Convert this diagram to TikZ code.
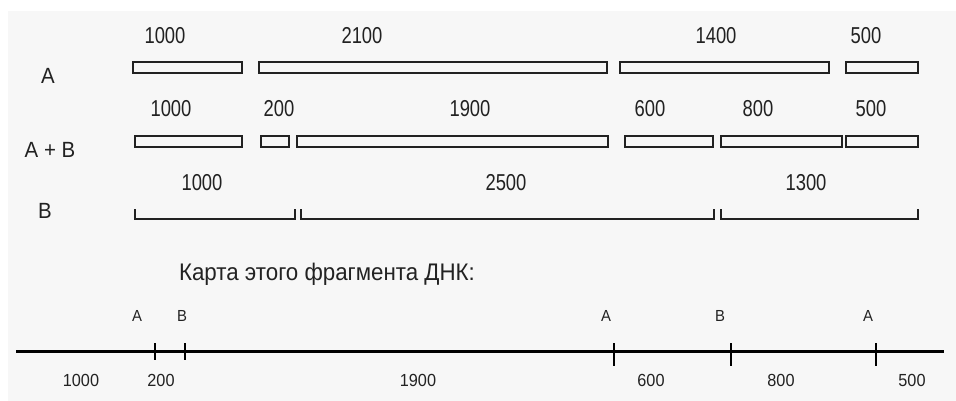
\documentclass[tikz,border=0pt]{standalone}
\usepackage{fontspec}
\setmainfont{Liberation Sans}
\newfontfamily\nar{Liberation Sans}[FakeStretch=0.8]
\newfontfamily\reg{Liberation Sans}[FakeStretch=0.93]
\definecolor{bg}{HTML}{F7F7F7}
\definecolor{ink}{HTML}{222222}
\begin{document}
\begin{tikzpicture}[x=1pt,y=-1pt,
  lab/.style={inner sep=0pt,text=ink,font=\nar\fontsize{23}{25}\selectfont},
  rowlab/.style={inner sep=0pt,text=ink,font=\reg\fontsize{22}{24}\selectfont},
  small/.style={inner sep=0pt,text=ink,font=\reg\fontsize{17.5}{19}\selectfont},
  site/.style={inner sep=0pt,text=ink,font=\reg\fontsize{16}{18}\selectfont},
  title/.style={inner sep=0pt,text=ink,font=\reg\fontsize{24}{26}\selectfont},
  frag/.style={draw=ink,line width=1.2pt},
  brk/.style={draw=ink,line width=1.2pt},
  axis/.style={draw=black,line width=3pt},
  tick/.style={draw=black,line width=1.3pt}]
\useasboundingbox (0,0) rectangle (956,401);
\fill[white] (0,0) rectangle (956,401);
\fill[bg] (8,11) rectangle (956,401);

% row labels
\node[rowlab] (rA) at (48,76) {A};
\node[rowlab] (rAB) at (50,150) {A + B};
\node[rowlab] (rB) at (45,211) {B};

% row A
\node[lab] (a1) at (165,36) {1000};
\node[lab] (a2) at (362,36) {2100};
\node[lab] (a3) at (716,36) {1400};
\node[lab] (a4) at (866,36) {500};
\draw[frag] (133,62) rectangle (242,73);
\draw[frag] (259,62) rectangle (607,73);
\draw[frag] (620,62) rectangle (829,73);
\draw[frag] (846,62) rectangle (918,73);

% row A+B
\node[lab] (b1) at (171,109) {1000};
\node[lab] (b2) at (279,109) {200};
\node[lab] (b3) at (470,109) {1900};
\node[lab] (b4) at (650,109) {600};
\node[lab] (b5) at (758,109) {800};
\node[lab] (b6) at (871,109) {500};
\draw[frag] (135,136) rectangle (242,147);
\draw[frag] (261,136) rectangle (289,147);
\draw[frag] (297,136) rectangle (608,147);
\draw[frag] (625,136) rectangle (713,147);
\draw[frag] (721,136) rectangle (842,147);
\draw[frag] (846,136) rectangle (918,147);

% row B
\node[lab] (c1) at (202,183) {1000};
\node[lab] (c2) at (506,183) {2500};
\node[lab] (c3) at (806,183) {1300};
\draw[brk] (135,209) -- (135,219) -- (295,219) -- (295,209);
\draw[brk] (301,209) -- (301,219) -- (714,219) -- (714,209);
\draw[brk] (721,209) -- (721,219) -- (918,219) -- (918,209);

% title
\node[title] (t) at (327,274) {Карта этого фрагмента ДНК:};

% map
\coordinate (L) at (16,351);
\coordinate (R) at (944,351);
\draw[axis] (L) -- (R);
\foreach \x/\n in {155/1,185/2}{
  \coordinate (s\n t) at (\x,343);
  \coordinate (s\n b) at (\x,360);
  \draw[tick] (s\n t) -- (s\n b);}
\foreach \x/\n in {614/3,731/4,876/5}{
  \coordinate (s\n t) at (\x,343);
  \coordinate (s\n b) at (\x,366);
  \draw[tick] (s\n t) -- (s\n b);}
\node[site] (e1) at (137,316) {A};
\node[site] (e2) at (182,316) {B};
\node[site] (e3) at (606,316) {A};
\node[site] (e4) at (720,316) {B};
\node[site] (e5) at (868,316) {A};

\node[small] (d1) at (81,380) {1000};
\node[small] (d2) at (161,380) {200};
\node[small] (d3) at (418,380) {1900};
\node[small] (d4) at (651,380) {600};
\node[small] (d5) at (781,380) {800};
\node[small] (d6) at (912,380) {500};
\end{tikzpicture}
\end{document}
